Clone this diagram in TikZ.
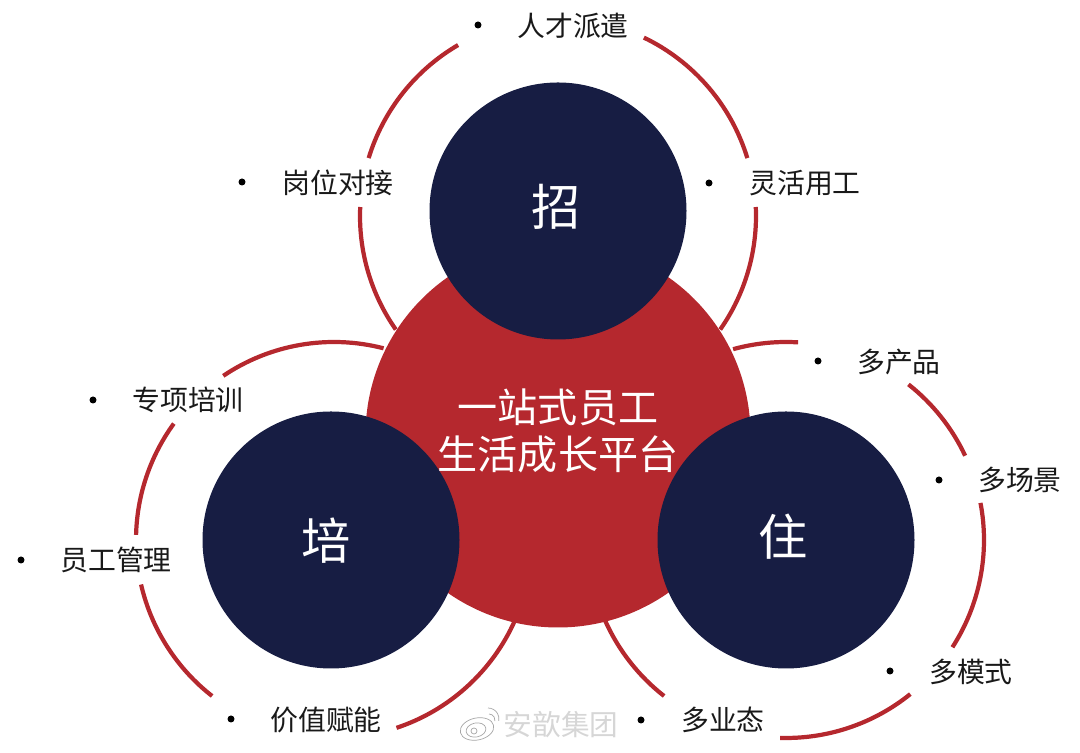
\documentclass[tikz,border=0pt]{standalone}
\usepackage{fontspec}
\setmainfont{Noto Sans CJK SC}
\definecolor{platred}{HTML}{B5282E}
\definecolor{navy}{HTML}{171D43}
\definecolor{markgray}{HTML}{D6D6D6}
\tikzset{
    hub/.style={circle, fill=platred, minimum size=385*0.025cm, inner sep=0pt},
    pillar/.style={circle, fill=navy, minimum size=257*0.025cm, inner sep=0pt},
    pillartext/.style={inner sep=0pt, text=white, font=\fontsize{35}{40}\selectfont},
    item/.style={inner sep=0pt, font=\fontsize{19.8}{24}\selectfont, text=black!90},
    dot/.style={circle, fill=black, minimum size=7*0.025cm, inner sep=0pt},
    ring/.style={platred, line width=3pt},
    logo/.style={gray!70, line width=0.5pt}
}
\newcommand{\ringarc}[3]{\draw[ring] ([shift={(#2:198)}]#1) arc[start angle=#2, end angle=#3, radius=198];}
\begin{document}
\begin{tikzpicture}[x=0.025cm, y=0.025cm]
    \useasboundingbox (0,0) rectangle (1080,753);

    \node[hub] (platform) at (558,318) {};
    \node[pillar] (zhao) at (558,542) {};
    \node[pillar] (pei) at (331,213) {};
    \node[pillar] (zhu) at (786,213) {};
    \node[pillartext] (zhaotext) at (556,546) {招};
    \node[pillartext] (peitext) at (326,212) {培};
    \node[pillartext] (zhutext) at (783,216) {住};
    \node[text=white, align=center, font=\fontsize{28.5}{33.5}\selectfont] (platformtext) at (558,322) {一站式员工\\生活成长平台};

    \coordinate (ringzhao) at (558,537);
    \coordinate (ringpei) at (334,213);
    \coordinate (ringzhu) at (786,213);

    \ringarc{ringzhao}{215}{177.4}
    \ringarc{ringzhao}{163}{120.3}
    \ringarc{ringzhao}{64.3}{17}
    \ringarc{ringzhao}{2.6}{-35}

    \ringarc{ringzhu}{105.5}{86.5}
    \ringarc{ringzhu}{51.8}{25.2}
    \ringarc{ringzhu}{10.8}{-32.8}
    \ringarc{ringzhu}{-51.1}{-91.7}
    \ringarc{ringzhu}{232}{204.2}

    \ringarc{ringpei}{75.5}{124}
    \ringarc{ringpei}{144}{178.5}
    \ringarc{ringpei}{193}{232}
    \ringarc{ringpei}{288.4}{336}

    \node[dot] (rencaidot) at (478,728) {};
    \node[item] (rencai) at (573,727) {人才派遣};
    \node[dot] (gangweidot) at (242,571) {};
    \node[item] (gangwei) at (338,570) {岗位对接};
    \node[dot] (linghuodot) at (709,570) {};
    \node[item] (linghuo) at (805,570) {灵活用工};

    \node[dot] (chanpindot) at (818,392) {};
    \node[item] (chanpin) at (899,391) {多产品};
    \node[dot] (changjingdot) at (939,273) {};
    \node[item] (changjing) at (1020,273) {多场景};
    \node[dot] (moshidot) at (890,82) {};
    \node[item] (moshi) at (971,81) {多模式};
    \node[dot] (yetaidot) at (641,33) {};
    \node[item] (yetai) at (723,33) {多业态};

    \node[dot] (zhuanxiangdot) at (93,353) {};
    \node[item] (zhuanxiang) at (188,353) {专项培训};
    \node[dot] (guanlidot) at (21,193) {};
    \node[item] (guanli) at (116,193) {员工管理};
    \node[dot] (jiazhidot) at (231,34) {};
    \node[item] (jiazhi) at (326,33) {价值赋能};

    \node[inner sep=0pt, text=markgray, font=\fontsize{20.4}{24}\selectfont] (mark) at (561,28) {安歆集团};
    \draw[logo, rotate around={12:(477,24)}] (477,24) ellipse (17 and 11);
    \draw[logo, rotate around={12:(476,23)}] (476,23) ellipse (10 and 7);
    \draw[logo] (474,22) circle (3);
    \draw[logo] (489,39) arc[start angle=90, end angle=-10, radius=6];
    \draw[logo] (488,45) arc[start angle=90, end angle=-10, radius=11];
\end{tikzpicture}
\end{document}
